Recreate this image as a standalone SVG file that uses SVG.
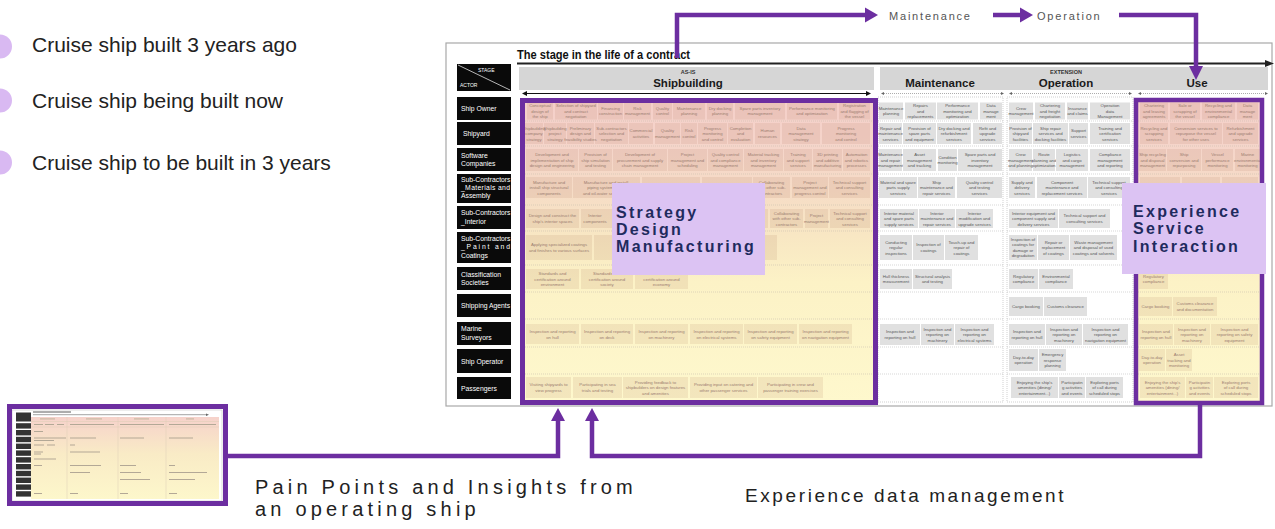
<svg xmlns="http://www.w3.org/2000/svg" width="1275" height="529" viewBox="0 0 1275 529">
<defs>
<linearGradient id="g1" gradientUnits="userSpaceOnUse" x1="0" y1="100" x2="0" y2="403">
<stop offset="0" stop-color="#f5cfc9"/><stop offset=".14" stop-color="#f5d4ca"/><stop offset=".3" stop-color="#f6dcc6"/><stop offset=".45" stop-color="#f8e7c3"/><stop offset=".6" stop-color="#fcf2c6"/><stop offset="1" stop-color="#fef8cd"/>
</linearGradient>
<linearGradient id="g2" x1="0" y1="0" x2="0" y2="1">
<stop offset="0" stop-color="#f6d2cb"/><stop offset=".45" stop-color="#f9ebc6"/><stop offset="1" stop-color="#fdf7cb"/>
</linearGradient>
<style>
.s{fill:#9c5a3c;fill-opacity:.11}
.m{fill:#e0e0e0}
.ts{font-family:"Liberation Sans",Arial,sans-serif;font-size:4.3px;fill:#9b7d70;text-anchor:middle}
.tm{font-family:"Liberation Sans",Arial,sans-serif;font-size:4.3px;fill:#575757;text-anchor:middle}
.lb{fill:#0a0a0a}
.lt{font-family:"Liberation Sans",Arial,sans-serif;font-size:6.8px;fill:#fff}
.sep{stroke:#cbbfae;stroke-width:.6;stroke-dasharray:1 1;fill:none}
.sepm{stroke:#bdbdbd;stroke-width:.6;stroke-dasharray:1 1;fill:none}
.hd{font-family:"Liberation Sans",Arial,sans-serif;font-weight:bold;font-size:11.5px;fill:#1a1a1a;text-anchor:middle}
.hs{font-family:"Liberation Sans",Arial,sans-serif;font-weight:bold;font-size:5.5px;fill:#333;text-anchor:middle}
.big{font-family:"Liberation Sans",Arial,sans-serif;font-weight:bold;font-size:16px;fill:#1f2b5e;letter-spacing:2.3px}
.flow{fill:none;stroke:#6c2ea0;stroke-width:4.5}
.pa{fill:#6c2ea0}
.ft{font-family:"Liberation Sans",Arial,sans-serif;font-size:11px;fill:#555;letter-spacing:1.8px}
.bt{font-family:"Liberation Sans",Arial,sans-serif;font-size:21px;fill:#222}
.cap{font-family:"Liberation Sans",Arial,sans-serif;fill:#222}
.tb{fill:#b3a896}
</style>
</defs>
<rect width="1275" height="529" fill="#fff"/>

<g id="bullets">
<circle cx="0" cy="46.5" r="12" fill="#d9b9f2"/>
<circle cx="0" cy="100.5" r="12" fill="#d9b9f2"/>
<circle cx="0" cy="162.5" r="12" fill="#d9b9f2"/>
<text class="bt" x="32" y="52">Cruise ship built 3 years ago</text>
<text class="bt" x="32" y="108">Cruise ship being built now</text>
<text class="bt" x="32" y="170">Cruise ship to be built in 3 years</text>
</g>

<g id="table">
<rect x="446" y="43" width="826" height="363" fill="#fff" stroke="#a8a8a8" stroke-width="1.2"/>
<text x="517" y="59" font-family="Liberation Sans, Arial, sans-serif" font-weight="bold" font-size="12" fill="#111" textLength="173" lengthAdjust="spacingAndGlyphs">The stage in the life of a contract</text>
<line x1="517" y1="63.5" x2="1266" y2="63.5" stroke="#222" stroke-width="1.8"/>
<polygon points="1265,60 1274,63.5 1265,67" fill="#222"/>
<rect x="519" y="67" width="355" height="23" fill="#d6d6d6"/>
<rect x="880" y="67" width="388" height="23" fill="#d6d6d6"/>
<text class="hs" x="688" y="74">AS-IS</text>
<text class="hd" x="688" y="86.5">Shipbuilding</text>
<text class="hs" x="1066" y="74">EXTENSION</text>
<text class="hd" x="940" y="86.5">Maintenance</text>
<text class="hd" x="1066" y="86.5">Operation</text>
<text class="hd" x="1197" y="86.5">Use</text>
<line x1="526" y1="93.5" x2="867" y2="93.5" stroke="#111" stroke-width="1"/>
<polygon points="527,91 522,93.5 527,96" fill="#111"/><polygon points="866,91 871,93.5 866,96" fill="#111"/>
<line x1="882" y1="93.5" x2="1003" y2="93.5" stroke="#888" stroke-width=".7" stroke-dasharray="1 1"/>
<line x1="1010" y1="93.5" x2="1131" y2="93.5" stroke="#888" stroke-width=".7" stroke-dasharray="1 1"/>
<line x1="1139" y1="93.5" x2="1267" y2="93.5" stroke="#888" stroke-width=".7" stroke-dasharray="1 1"/>
<polygon points="884,92 881,93.5 884,95" fill="#666"/><polygon points="1001,92 1004,93.5 1001,95" fill="#666"/>
<polygon points="1012,92 1009,93.5 1012,95" fill="#666"/><polygon points="1129,92 1132,93.5 1129,95" fill="#666"/>
<polygon points="1141,92 1138,93.5 1141,95" fill="#666"/><polygon points="1265,92 1268,93.5 1265,95" fill="#666"/>

<!-- stage/actor header -->
<rect class="lb" x="457" y="64" width="54" height="27"/>
<line x1="458" y1="65" x2="510" y2="90" stroke="#fff" stroke-width=".7"/>
<text x="478" y="71.5" font-family="Liberation Sans, Arial, sans-serif" font-size="5" fill="#fff">STAGE</text>
<text x="460" y="87" font-family="Liberation Sans, Arial, sans-serif" font-size="5" fill="#fff">ACTOR</text>

<!-- column backgrounds -->
<rect x="522.5" y="100.5" width="353" height="302" fill="url(#g1)"/>
<rect x="1136" y="100" width="126" height="303" fill="url(#g1)"/>
<rect x="878" y="97" width="125" height="305" fill="none" stroke="#bdbdbd" stroke-width=".7" stroke-dasharray="1 1"/>
<rect x="1007" y="97" width="126" height="305" fill="none" stroke="#bdbdbd" stroke-width=".7" stroke-dasharray="1 1"/>

<!-- separators -->
<path class="sep" d="M525 121H873M525 146H873M525 174H873M525 205H873M525 231H873M525 265H873M525 292H873M525 319H873M525 347H873M525 374H873"/>
<path class="sep" d="M1138 121H1260M1138 146H1260M1138 174H1260M1138 205H1260M1138 231H1260M1138 265H1260M1138 292H1260M1138 319H1260M1138 347H1260M1138 374H1260"/>
<path class="sepm" d="M878 121H1003M878 146H1003M878 174H1003M878 205H1003M878 231H1003M878 265H1003M878 292H1003M878 319H1003M878 347H1003M878 374H1003"/>
<path class="sepm" d="M1007 121H1133M1007 146H1133M1007 174H1133M1007 205H1133M1007 231H1133M1007 265H1133M1007 292H1133M1007 319H1133M1007 347H1133M1007 374H1133"/>
</g>

<g id="actors">
<rect class="lb" x="457" y="97" width="54" height="23"/><text class="lt" x="461" y="110.5">Ship Owner</text>
<rect class="lb" x="457" y="122" width="54" height="23"/><text class="lt" x="463" y="135.5">Shipyard</text>
<rect class="lb" x="457" y="148" width="54" height="23"/><text class="lt" x="461" y="157.5">Software<tspan x="461" dy="8">Companies</tspan></text>
<rect class="lb" x="457" y="174" width="54" height="29"/><text class="lt" x="461" y="181.5">Sub-Contractors</text><text class="lt" x="461" y="189.5" textLength="49">_Materials and</text><text class="lt" x="461" y="197.5">Assembly</text>
<rect class="lb" x="457" y="206" width="54" height="23"/><text class="lt" x="461" y="215">Sub-Contractors<tspan x="461" dy="8.5">_Interior</tspan></text>
<rect class="lb" x="457" y="232" width="54" height="31"/><text class="lt" x="461" y="240.5">Sub-Contractors</text><text class="lt" x="461" y="249" textLength="49">_Paint and</text><text class="lt" x="461" y="257.5">Coatings</text>
<rect class="lb" x="457" y="267" width="54" height="23"/><text class="lt" x="461" y="276.5">Classification<tspan x="461" dy="8.5">Societies</tspan></text>
<rect class="lb" x="457" y="294" width="54" height="23"/><text class="lt" x="461" y="307.5">Shipping Agents</text>
<rect class="lb" x="457" y="322" width="54" height="23"/><text class="lt" x="461" y="331">Marine<tspan x="461" dy="8.5">Surveyors</tspan></text>
<rect class="lb" x="457" y="349" width="54" height="24"/><text class="lt" x="461" y="363.5">Ship Operator</text>
<rect class="lb" x="457" y="377" width="54" height="22"/><text class="lt" x="461" y="390.5">Passengers</text>
</g>

<g id="shipbuilding">
<!-- R1 -->
<rect class="s" x="527" y="102.5" width="26" height="17"/><text class="ts" x="540" y="107.2"><tspan x="540">Conceptual</tspan><tspan x="540" dy="5.4">design of</tspan><tspan x="540" dy="5.4">the ship</tspan></text>
<rect class="s" x="555" y="102.5" width="42" height="17"/><text class="ts" x="576" y="107.2"><tspan x="576">Selection of shipyard</tspan><tspan x="576" dy="5.4">and contract</tspan><tspan x="576" dy="5.4">negotiation</tspan></text>
<rect class="s" x="598" y="102.5" width="25" height="17"/><text class="ts" x="610.5" y="109.9"><tspan x="610.5">Financing</tspan><tspan x="610.5" dy="5.4">construction</tspan></text>
<rect class="s" x="624" y="102.5" width="27" height="17"/><text class="ts" x="637.5" y="109.9"><tspan x="637.5">Risk</tspan><tspan x="637.5" dy="5.4">management</tspan></text>
<rect class="s" x="653" y="102.5" width="19" height="17"/><text class="ts" x="662.5" y="109.9"><tspan x="662.5">Quality</tspan><tspan x="662.5" dy="5.4">control</tspan></text>
<rect class="s" x="673" y="102.5" width="32" height="17"/><text class="ts" x="689" y="109.9"><tspan x="689">Maintenance</tspan><tspan x="689" dy="5.4">planning</tspan></text>
<rect class="s" x="707" y="102.5" width="26" height="17"/><text class="ts" x="720" y="109.9"><tspan x="720">Dry docking</tspan><tspan x="720" dy="5.4">planning</tspan></text>
<rect class="s" x="735" y="102.5" width="50" height="17"/><text class="ts" x="760" y="109.9"><tspan x="760">Spare parts inventory</tspan><tspan x="760" dy="5.4">management</tspan></text>
<rect class="s" x="787" y="102.5" width="50" height="17"/><text class="ts" x="812" y="109.9"><tspan x="812">Performance monitoring</tspan><tspan x="812" dy="5.4">and optimization</tspan></text>
<rect class="s" x="839" y="102.5" width="31" height="17"/><text class="ts" x="854.5" y="107.2"><tspan x="854.5">Registration</tspan><tspan x="854.5" dy="5.4">and flagging of</tspan><tspan x="854.5" dy="5.4">the vessel</tspan></text>
<!-- R2 -->
<rect class="s" x="525" y="123" width="18" height="21"/><text class="ts" x="534" y="129.7"><tspan x="534">Shipbuilding</tspan><tspan x="534" dy="5.4">company</tspan><tspan x="534" dy="5.4">strategy</tspan></text>
<rect class="s" x="544" y="123" width="22" height="21"/><text class="ts" x="555" y="129.7"><tspan x="555">Shipbuilding</tspan><tspan x="555" dy="5.4">project</tspan><tspan x="555" dy="5.4">strategy</tspan></text>
<rect class="s" x="567" y="123" width="27" height="21"/><text class="ts" x="580.5" y="129.7"><tspan x="580.5">Preliminary</tspan><tspan x="580.5" dy="5.4">design and</tspan><tspan x="580.5" dy="5.4">feasibility studies</tspan></text>
<rect class="s" x="595" y="123" width="33" height="21"/><text class="ts" x="611.5" y="129.7"><tspan x="611.5">Sub-contractors</tspan><tspan x="611.5" dy="5.4">selection and</tspan><tspan x="611.5" dy="5.4">negotiation</tspan></text>
<rect class="s" x="629" y="123" width="24" height="21"/><text class="ts" x="641" y="132.4"><tspan x="641">Commercial</tspan><tspan x="641" dy="5.4">activities</tspan></text>
<rect class="s" x="655" y="123" width="25" height="21"/><text class="ts" x="667.5" y="132.4"><tspan x="667.5">Quality</tspan><tspan x="667.5" dy="5.4">management</tspan></text>
<rect class="s" x="681" y="123" width="16" height="21"/><text class="ts" x="689" y="132.4"><tspan x="689">Risk</tspan><tspan x="689" dy="5.4">control</tspan></text>
<rect class="s" x="698" y="123" width="29" height="21"/><text class="ts" x="712.5" y="129.7"><tspan x="712.5">Progress</tspan><tspan x="712.5" dy="5.4">monitoring</tspan><tspan x="712.5" dy="5.4">and control</tspan></text>
<rect class="s" x="728" y="123" width="25" height="21"/><text class="ts" x="740.5" y="129.7"><tspan x="740.5">Completion</tspan><tspan x="740.5" dy="5.4">and</tspan><tspan x="740.5" dy="5.4">evaluation</tspan></text>
<rect class="s" x="755" y="123" width="25" height="21"/><text class="ts" x="767.5" y="132.4"><tspan x="767.5">Human</tspan><tspan x="767.5" dy="5.4">resources</tspan></text>
<rect class="s" x="782" y="123" width="38" height="21"/><text class="ts" x="801" y="129.7"><tspan x="801">Data</tspan><tspan x="801" dy="5.4">management</tspan><tspan x="801" dy="5.4">strategy</tspan></text>
<rect class="s" x="822" y="123" width="48" height="21"/><text class="ts" x="846" y="129.7"><tspan x="846">Progress</tspan><tspan x="846" dy="5.4">monitoring</tspan><tspan x="846" dy="5.4">and control</tspan></text>
<!-- R3 -->
<rect class="s" x="526" y="149" width="52" height="22"/><text class="ts" x="552" y="156.2"><tspan x="552">Development and</tspan><tspan x="552" dy="5.4">implementation of ship</tspan><tspan x="552" dy="5.4">design and engineering</tspan></text>
<rect class="s" x="579" y="149" width="33" height="22"/><text class="ts" x="595.5" y="156.2"><tspan x="595.5">Provision of</tspan><tspan x="595.5" dy="5.4">ship simulation</tspan><tspan x="595.5" dy="5.4">and testing</tspan></text>
<rect class="s" x="613" y="149" width="54" height="22"/><text class="ts" x="640" y="156.2"><tspan x="640">Development of</tspan><tspan x="640" dy="5.4">procurement and supply</tspan><tspan x="640" dy="5.4">chain management</tspan></text>
<rect class="s" x="668" y="149" width="39" height="22"/><text class="ts" x="687.5" y="156.2"><tspan x="687.5">Project</tspan><tspan x="687.5" dy="5.4">management and</tspan><tspan x="687.5" dy="5.4">scheduling</tspan></text>
<rect class="s" x="708" y="149" width="35" height="22"/><text class="ts" x="725.5" y="156.2"><tspan x="725.5">Quality control</tspan><tspan x="725.5" dy="5.4">and compliance</tspan><tspan x="725.5" dy="5.4">management</tspan></text>
<rect class="s" x="744" y="149" width="39" height="22"/><text class="ts" x="763.5" y="156.2"><tspan x="763.5">Material tracking</tspan><tspan x="763.5" dy="5.4">and inventory</tspan><tspan x="763.5" dy="5.4">management</tspan></text>
<rect class="s" x="784" y="149" width="28" height="22"/><text class="ts" x="798" y="156.2"><tspan x="798">Training</tspan><tspan x="798" dy="5.4">and support</tspan><tspan x="798" dy="5.4">services</tspan></text>
<rect class="s" x="813" y="149" width="29" height="22"/><text class="ts" x="827.5" y="156.2"><tspan x="827.5">3D printing</tspan><tspan x="827.5" dy="5.4">and additive</tspan><tspan x="827.5" dy="5.4">manufacturing</tspan></text>
<rect class="s" x="843" y="149" width="27" height="22"/><text class="ts" x="856.5" y="156.2"><tspan x="856.5">Automation</tspan><tspan x="856.5" dy="5.4">and robotics</tspan><tspan x="856.5" dy="5.4">processes</tspan></text>
<!-- R4 -->
<rect class="s" x="526" y="177" width="46" height="21"/><text class="ts" x="549" y="183.7"><tspan x="549">Manufacture and</tspan><tspan x="549" dy="5.4">install ship structural</tspan><tspan x="549" dy="5.4">components</tspan></text>
<rect class="s" x="573" y="177" width="67" height="21"/><text class="ts" x="606" y="183.7"><tspan x="606">Manufacture and install</tspan><tspan x="606" dy="5.4">piping systems, fuel</tspan><tspan x="606" dy="5.4">and oil-water separators</tspan></text>
<rect class="s" x="642" y="177" width="58" height="21"/>
<rect class="s" x="702" y="177" width="50" height="21"/>
<rect class="s" x="753" y="177" width="37" height="21"/><text class="ts" x="771.5" y="183.7"><tspan x="771.5">Collaborating</tspan><tspan x="771.5" dy="5.4">with other sub-</tspan><tspan x="771.5" dy="5.4">contractors</tspan></text>
<rect class="s" x="792" y="177" width="36" height="21"/><text class="ts" x="810" y="183.7"><tspan x="810">Project</tspan><tspan x="810" dy="5.4">management and</tspan><tspan x="810" dy="5.4">progress control</tspan></text>
<rect class="s" x="829" y="177" width="41" height="21"/><text class="ts" x="849.5" y="183.7"><tspan x="849.5">Technical support</tspan><tspan x="849.5" dy="5.4">and consulting</tspan><tspan x="849.5" dy="5.4">services</tspan></text>
<!-- R5 -->
<rect class="s" x="526" y="209" width="53" height="19"/><text class="ts" x="552.5" y="217.4"><tspan x="552.5">Design and construct the</tspan><tspan x="552.5" dy="5.4">ship's interior spaces</tspan></text>
<rect class="s" x="581" y="209" width="31" height="19"/><text class="ts" x="595" y="217.4"><tspan x="595">Interior</tspan><tspan x="595" dy="5.4">components</tspan></text>
<rect class="s" x="614" y="209" width="76" height="19"/>
<rect class="s" x="692" y="209" width="76" height="19"/>
<rect class="s" x="770" y="209" width="33" height="19"/><text class="ts" x="786.5" y="214.7"><tspan x="786.5">Collaborating</tspan><tspan x="786.5" dy="5.4">with other sub-</tspan><tspan x="786.5" dy="5.4">contractors</tspan></text>
<rect class="s" x="805" y="209" width="23" height="19"/><text class="ts" x="816.5" y="217.4"><tspan x="816.5">Project</tspan><tspan x="816.5" dy="5.4">management</tspan></text>
<rect class="s" x="830" y="209" width="40" height="19"/><text class="ts" x="850" y="214.7"><tspan x="850">Technical support</tspan><tspan x="850" dy="5.4">and consulting</tspan><tspan x="850" dy="5.4">services</tspan></text>
<!-- R6 -->
<rect class="s" x="526" y="235" width="66" height="25"/><text class="ts" x="559" y="246.4"><tspan x="559">Applying specialized coatings</tspan><tspan x="559" dy="5.4">and finishes to various surfaces</tspan></text>
<rect class="s" x="594" y="235" width="66" height="25"/>
<rect class="s" x="700" y="235" width="77" height="25"/>
<!-- R7 -->
<rect class="s" x="526" y="269" width="53" height="20"/><text class="ts" x="552.5" y="275.2"><tspan x="552.5">Standards and</tspan><tspan x="552.5" dy="5.4">certification around</tspan><tspan x="552.5" dy="5.4">environment</tspan></text>
<rect class="s" x="581" y="269" width="52" height="20"/><text class="ts" x="607" y="275.2"><tspan x="607">Standards and</tspan><tspan x="607" dy="5.4">certification around</tspan><tspan x="607" dy="5.4">society</tspan></text>
<rect class="s" x="635" y="269" width="53" height="20"/><text class="ts" x="661.5" y="275.2"><tspan x="661.5">Standards and</tspan><tspan x="661.5" dy="5.4">certification around</tspan><tspan x="661.5" dy="5.4">economy</tspan></text>
<!-- R9 -->
<rect class="s" x="526" y="324" width="53" height="20"/><text class="ts" x="552.5" y="333.4"><tspan x="552.5">Inspection and reporting</tspan><tspan x="552.5" dy="5.4">on hull</tspan></text>
<rect class="s" x="581" y="324" width="52" height="20"/><text class="ts" x="607" y="333.4"><tspan x="607">Inspection and reporting</tspan><tspan x="607" dy="5.4">on deck</tspan></text>
<rect class="s" x="635" y="324" width="53" height="20"/><text class="ts" x="661.5" y="333.4"><tspan x="661.5">Inspection and reporting</tspan><tspan x="661.5" dy="5.4">on machinery</tspan></text>
<rect class="s" x="690" y="324" width="53" height="20"/><text class="ts" x="716.5" y="333.4"><tspan x="716.5">Inspection and reporting</tspan><tspan x="716.5" dy="5.4">on electrical systems</tspan></text>
<rect class="s" x="744" y="324" width="53" height="20"/><text class="ts" x="770.5" y="333.4"><tspan x="770.5">Inspection and reporting</tspan><tspan x="770.5" dy="5.4">on safety equipment</tspan></text>
<rect class="s" x="799" y="324" width="53" height="20"/><text class="ts" x="825.5" y="333.4"><tspan x="825.5">Inspection and reporting</tspan><tspan x="825.5" dy="5.4">on navigation equipment</tspan></text>
<!-- R11 -->
<rect class="s" x="526" y="377" width="45" height="21"/><text class="ts" x="548.5" y="386.4"><tspan x="548.5">Visiting shipyards to</tspan><tspan x="548.5" dy="5.4">view progress</tspan></text>
<rect class="s" x="573" y="377" width="49" height="21"/><text class="ts" x="597.5" y="386.4"><tspan x="597.5">Participating in sea</tspan><tspan x="597.5" dy="5.4">trials and testing</tspan></text>
<rect class="s" x="623" y="377" width="65" height="21"/><text class="ts" x="655.5" y="383.7"><tspan x="655.5">Providing feedback to</tspan><tspan x="655.5" dy="5.4">shipbuilders on design features</tspan><tspan x="655.5" dy="5.4">and amenities</tspan></text>
<rect class="s" x="690" y="377" width="67" height="21"/><text class="ts" x="723.5" y="386.4"><tspan x="723.5">Providing input on catering and</tspan><tspan x="723.5" dy="5.4">other passenger services</tspan></text>
<rect class="s" x="758" y="377" width="65" height="21"/><text class="ts" x="790.5" y="386.4"><tspan x="790.5">Participating in crew and</tspan><tspan x="790.5" dy="5.4">passenger training exercises</tspan></text>
</g>

<g id="maintenance">
<rect class="m" x="879" y="102.5" width="24" height="17"/><text class="tm" x="891" y="109.9"><tspan x="891">Maintenance</tspan><tspan x="891" dy="5.4">planning</tspan></text>
<rect class="m" x="905" y="102.5" width="31" height="17"/><text class="tm" x="920.5" y="107.2"><tspan x="920.5">Repairs</tspan><tspan x="920.5" dy="5.4">and</tspan><tspan x="920.5" dy="5.4">replacements</tspan></text>
<rect class="m" x="937" y="102.5" width="41" height="17"/><text class="tm" x="957.5" y="107.2"><tspan x="957.5">Performance</tspan><tspan x="957.5" dy="5.4">monitoring and</tspan><tspan x="957.5" dy="5.4">optimization</tspan></text>
<rect class="m" x="980" y="102.5" width="22" height="17"/><text class="tm" x="991" y="107.2"><tspan x="991">Data</tspan><tspan x="991" dy="5.4">manage</tspan><tspan x="991" dy="5.4">ment</tspan></text>
<rect class="m" x="879" y="123" width="23" height="21"/><text class="tm" x="890.5" y="129.7"><tspan x="890.5">Repair and</tspan><tspan x="890.5" dy="5.4">maintenance</tspan><tspan x="890.5" dy="5.4">services</tspan></text>
<rect class="m" x="903" y="123" width="33" height="21"/><text class="tm" x="919.5" y="129.7"><tspan x="919.5">Provision of</tspan><tspan x="919.5" dy="5.4">spare parts</tspan><tspan x="919.5" dy="5.4">and equipment</tspan></text>
<rect class="m" x="937" y="123" width="34" height="21"/><text class="tm" x="954" y="129.7"><tspan x="954">Dry docking and</tspan><tspan x="954" dy="5.4">refurbishment</tspan><tspan x="954" dy="5.4">services</tspan></text>
<rect class="m" x="973" y="123" width="29" height="21"/><text class="tm" x="987.5" y="129.7"><tspan x="987.5">Refit and</tspan><tspan x="987.5" dy="5.4">upgrade</tspan><tspan x="987.5" dy="5.4">services</tspan></text>
<rect class="m" x="879" y="149" width="23" height="22"/><text class="tm" x="890.5" y="156.2"><tspan x="890.5">Maintenance</tspan><tspan x="890.5" dy="5.4">and repair</tspan><tspan x="890.5" dy="5.4">management</tspan></text>
<rect class="m" x="903" y="149" width="33" height="22"/><text class="tm" x="919.5" y="156.2"><tspan x="919.5">Asset</tspan><tspan x="919.5" dy="5.4">management</tspan><tspan x="919.5" dy="5.4">and tracking</tspan></text>
<rect class="m" x="938" y="149" width="19" height="22"/><text class="tm" x="947.5" y="158.9"><tspan x="947.5">Condition</tspan><tspan x="947.5" dy="5.4">monitoring</tspan></text>
<rect class="m" x="958" y="149" width="44" height="22"/><text class="tm" x="980" y="156.2"><tspan x="980">Spare parts and</tspan><tspan x="980" dy="5.4">inventory</tspan><tspan x="980" dy="5.4">management</tspan></text>
<rect class="m" x="879" y="177" width="38" height="21"/><text class="tm" x="898" y="183.7"><tspan x="898">Material and spare</tspan><tspan x="898" dy="5.4">parts supply</tspan><tspan x="898" dy="5.4">services</tspan></text>
<rect class="m" x="918" y="177" width="37" height="21"/><text class="tm" x="936.5" y="183.7"><tspan x="936.5">Ship</tspan><tspan x="936.5" dy="5.4">maintenance and</tspan><tspan x="936.5" dy="5.4">repair services</tspan></text>
<rect class="m" x="957" y="177" width="45" height="21"/><text class="tm" x="979.5" y="183.7"><tspan x="979.5">Quality control</tspan><tspan x="979.5" dy="5.4">and testing</tspan><tspan x="979.5" dy="5.4">services</tspan></text>
<rect class="m" x="880" y="209" width="38" height="19"/><text class="tm" x="899" y="214.7"><tspan x="899">Interior material</tspan><tspan x="899" dy="5.4">and spare parts</tspan><tspan x="899" dy="5.4">supply services</tspan></text>
<rect class="m" x="919" y="209" width="36" height="19"/><text class="tm" x="937" y="214.7"><tspan x="937">Interior</tspan><tspan x="937" dy="5.4">maintenance and</tspan><tspan x="937" dy="5.4">repair services</tspan></text>
<rect class="m" x="956" y="209" width="37" height="19"/><text class="tm" x="974.5" y="214.7"><tspan x="974.5">Interior</tspan><tspan x="974.5" dy="5.4">modification and</tspan><tspan x="974.5" dy="5.4">upgrade services</tspan></text>
<rect class="m" x="880" y="235" width="32" height="25"/><text class="tm" x="896" y="243.7"><tspan x="896">Conducting</tspan><tspan x="896" dy="5.4">regular</tspan><tspan x="896" dy="5.4">inspections</tspan></text>
<rect class="m" x="913" y="235" width="31" height="25"/><text class="tm" x="928.5" y="246.4"><tspan x="928.5">Inspection of</tspan><tspan x="928.5" dy="5.4">coatings</tspan></text>
<rect class="m" x="945" y="235" width="33" height="25"/><text class="tm" x="961.5" y="243.7"><tspan x="961.5">Touch-up and</tspan><tspan x="961.5" dy="5.4">repair of</tspan><tspan x="961.5" dy="5.4">coatings</tspan></text>
<rect class="m" x="880" y="269" width="32" height="20"/><text class="tm" x="896" y="277.9"><tspan x="896">Hull thickness</tspan><tspan x="896" dy="5.4">measurement</tspan></text>
<rect class="m" x="913" y="269" width="39" height="20"/><text class="tm" x="932.5" y="277.9"><tspan x="932.5">Structural analysis</tspan><tspan x="932.5" dy="5.4">and testing</tspan></text>
<rect class="m" x="880" y="324" width="40" height="21"/><text class="tm" x="900" y="333.4"><tspan x="900">Inspection and</tspan><tspan x="900" dy="5.4">reporting on hull</tspan></text>
<rect class="m" x="921" y="324" width="33" height="21"/><text class="tm" x="937.5" y="330.7"><tspan x="937.5">Inspection and</tspan><tspan x="937.5" dy="5.4">reporting on</tspan><tspan x="937.5" dy="5.4">machinery</tspan></text>
<rect class="m" x="955" y="324" width="39" height="21"/><text class="tm" x="974.5" y="330.7"><tspan x="974.5">Inspection and</tspan><tspan x="974.5" dy="5.4">reporting on</tspan><tspan x="974.5" dy="5.4">electrical systems</tspan></text>
</g>

<g id="operation">
<rect class="m" x="1009" y="102.5" width="24" height="17"/><text class="tm" x="1021" y="109.9"><tspan x="1021">Crew</tspan><tspan x="1021" dy="5.4">management</tspan></text>
<rect class="m" x="1035" y="102.5" width="30" height="17"/><text class="tm" x="1050" y="107.2"><tspan x="1050">Chartering</tspan><tspan x="1050" dy="5.4">and freight</tspan><tspan x="1050" dy="5.4">negotiation</tspan></text>
<rect class="m" x="1067" y="102.5" width="21" height="17"/><text class="tm" x="1077.5" y="109.9"><tspan x="1077.5">Insurance</tspan><tspan x="1077.5" dy="5.4">and claims</tspan></text>
<rect class="m" x="1090" y="102.5" width="40" height="17"/><text class="tm" x="1110" y="107.2"><tspan x="1110">Operation</tspan><tspan x="1110" dy="5.4">data</tspan><tspan x="1110" dy="5.4">Management</tspan></text>
<rect class="m" x="1009" y="123" width="23" height="21"/><text class="tm" x="1020.5" y="129.7"><tspan x="1020.5">Provision of</tspan><tspan x="1020.5" dy="5.4">shipyard</tspan><tspan x="1020.5" dy="5.4">facilities</tspan></text>
<rect class="m" x="1033" y="123" width="35" height="21"/><text class="tm" x="1050.5" y="129.7"><tspan x="1050.5">Ship repair</tspan><tspan x="1050.5" dy="5.4">services and</tspan><tspan x="1050.5" dy="5.4">docking facilities</tspan></text>
<rect class="m" x="1069" y="123" width="19" height="21"/><text class="tm" x="1078.5" y="132.4"><tspan x="1078.5">Support</tspan><tspan x="1078.5" dy="5.4">services</tspan></text>
<rect class="m" x="1090" y="123" width="40" height="21"/><text class="tm" x="1110" y="129.7"><tspan x="1110">Training and</tspan><tspan x="1110" dy="5.4">certification</tspan><tspan x="1110" dy="5.4">services</tspan></text>
<rect class="m" x="1009" y="149" width="23" height="22"/><text class="tm" x="1020.5" y="156.2"><tspan x="1020.5">Crew</tspan><tspan x="1020.5" dy="5.4">management</tspan><tspan x="1020.5" dy="5.4">and planning</tspan></text>
<rect class="m" x="1033" y="149" width="22" height="22"/><text class="tm" x="1044" y="156.2"><tspan x="1044">Route</tspan><tspan x="1044" dy="5.4">planning and</tspan><tspan x="1044" dy="5.4">optimization</tspan></text>
<rect class="m" x="1056" y="149" width="32" height="22"/><text class="tm" x="1072" y="156.2"><tspan x="1072">Logistics</tspan><tspan x="1072" dy="5.4">and cargo</tspan><tspan x="1072" dy="5.4">management</tspan></text>
<rect class="m" x="1090" y="149" width="40" height="22"/><text class="tm" x="1110" y="156.2"><tspan x="1110">Compliance</tspan><tspan x="1110" dy="5.4">management</tspan><tspan x="1110" dy="5.4">and reporting</tspan></text>
<rect class="m" x="1009" y="177" width="26" height="21"/><text class="tm" x="1022" y="183.7"><tspan x="1022">Supply and</tspan><tspan x="1022" dy="5.4">delivery</tspan><tspan x="1022" dy="5.4">services</tspan></text>
<rect class="m" x="1037" y="177" width="50" height="21"/><text class="tm" x="1062" y="183.7"><tspan x="1062">Component</tspan><tspan x="1062" dy="5.4">maintenance and</tspan><tspan x="1062" dy="5.4">replacement services</tspan></text>
<rect class="m" x="1088" y="177" width="42" height="21"/><text class="tm" x="1109" y="183.7"><tspan x="1109">Technical support</tspan><tspan x="1109" dy="5.4">and consulting</tspan><tspan x="1109" dy="5.4">services</tspan></text>
<rect class="m" x="1009" y="209" width="49" height="19"/><text class="tm" x="1033.5" y="214.7"><tspan x="1033.5">Interior equipment and</tspan><tspan x="1033.5" dy="5.4">component supply and</tspan><tspan x="1033.5" dy="5.4">delivery services</tspan></text>
<rect class="m" x="1059" y="209" width="51" height="19"/><text class="tm" x="1084.5" y="217.4"><tspan x="1084.5">Technical support and</tspan><tspan x="1084.5" dy="5.4">consulting services</tspan></text>
<rect class="m" x="1009" y="235" width="28" height="25"/><text class="tm" x="1023" y="241"><tspan x="1023">Inspection of</tspan><tspan x="1023" dy="5.4">coatings for</tspan><tspan x="1023" dy="5.4">damage or</tspan><tspan x="1023" dy="5.4">degradation</tspan></text>
<rect class="m" x="1038" y="235" width="31" height="25"/><text class="tm" x="1053.5" y="243.7"><tspan x="1053.5">Repair or</tspan><tspan x="1053.5" dy="5.4">replacement</tspan><tspan x="1053.5" dy="5.4">of coatings</tspan></text>
<rect class="m" x="1070" y="235" width="47" height="25"/><text class="tm" x="1093.5" y="243.7"><tspan x="1093.5">Waste management</tspan><tspan x="1093.5" dy="5.4">and disposal of used</tspan><tspan x="1093.5" dy="5.4">coatings and solvents</tspan></text>
<rect class="m" x="1009" y="269" width="29" height="20"/><text class="tm" x="1023.5" y="277.9"><tspan x="1023.5">Regulatory</tspan><tspan x="1023.5" dy="5.4">compliance</tspan></text>
<rect class="m" x="1039" y="269" width="34" height="20"/><text class="tm" x="1056" y="277.9"><tspan x="1056">Environmental</tspan><tspan x="1056" dy="5.4">compliance</tspan></text>
<rect class="m" x="1009" y="297" width="34" height="19"/><text class="tm" x="1026" y="308.1">Cargo booking</text>
<rect class="m" x="1044" y="297" width="43" height="19"/><text class="tm" x="1065.5" y="308.1">Customs clearance</text>
<rect class="m" x="1009" y="324" width="36" height="21"/><text class="tm" x="1027" y="333.4"><tspan x="1027">Inspection and</tspan><tspan x="1027" dy="5.4">reporting on hull</tspan></text>
<rect class="m" x="1046" y="324" width="36" height="21"/><text class="tm" x="1064" y="330.7"><tspan x="1064">Inspection and</tspan><tspan x="1064" dy="5.4">reporting on</tspan><tspan x="1064" dy="5.4">machinery</tspan></text>
<rect class="m" x="1083" y="324" width="45" height="21"/><text class="tm" x="1105.5" y="330.7"><tspan x="1105.5">Inspection and</tspan><tspan x="1105.5" dy="5.4">reporting on</tspan><tspan x="1105.5" dy="5.4">navigation equipment</tspan></text>
<rect class="m" x="1009" y="349" width="29" height="22"/><text class="tm" x="1023.5" y="358.9"><tspan x="1023.5">Day-to-day</tspan><tspan x="1023.5" dy="5.4">operation</tspan></text>
<rect class="m" x="1039" y="349" width="27" height="22"/><text class="tm" x="1052.5" y="356.2"><tspan x="1052.5">Emergency</tspan><tspan x="1052.5" dy="5.4">response</tspan><tspan x="1052.5" dy="5.4">planning</tspan></text>
<rect class="m" x="1011" y="377" width="47" height="21"/><text class="tm" x="1034.5" y="383.7"><tspan x="1034.5">Enjoying the ship's</tspan><tspan x="1034.5" dy="5.4">amenities (dining/</tspan><tspan x="1034.5" dy="5.4">entertainment...)</tspan></text>
<rect class="m" x="1059" y="377" width="26" height="21"/><text class="tm" x="1072" y="383.7"><tspan x="1072">Participatin</tspan><tspan x="1072" dy="5.4">g activities</tspan><tspan x="1072" dy="5.4">and events</tspan></text>
<rect class="m" x="1086" y="377" width="37" height="21"/><text class="tm" x="1104.5" y="383.7"><tspan x="1104.5">Exploring ports</tspan><tspan x="1104.5" dy="5.4">of call during</tspan><tspan x="1104.5" dy="5.4">scheduled stops</tspan></text>
</g>

<g id="use">
<rect class="s" x="1140" y="102.5" width="28" height="17"/><text class="ts" x="1154" y="107.2"><tspan x="1154">Chartering</tspan><tspan x="1154" dy="5.4">and leasing</tspan><tspan x="1154" dy="5.4">agreements</tspan></text>
<rect class="s" x="1170" y="102.5" width="30" height="17"/><text class="ts" x="1185" y="107.2"><tspan x="1185">Sale or</tspan><tspan x="1185" dy="5.4">scrapping of</tspan><tspan x="1185" dy="5.4">the vessel</tspan></text>
<rect class="s" x="1202" y="102.5" width="33" height="17"/><text class="ts" x="1218.5" y="107.2"><tspan x="1218.5">Recycling and</tspan><tspan x="1218.5" dy="5.4">environmental</tspan><tspan x="1218.5" dy="5.4">compliance</tspan></text>
<rect class="s" x="1237" y="102.5" width="21" height="17"/><text class="ts" x="1247.5" y="107.2"><tspan x="1247.5">Data</tspan><tspan x="1247.5" dy="5.4">manage</tspan><tspan x="1247.5" dy="5.4">ment</tspan></text>
<rect class="s" x="1140" y="123" width="28" height="21"/><text class="ts" x="1154" y="129.7"><tspan x="1154">Recycling and</tspan><tspan x="1154" dy="5.4">scrapping</tspan><tspan x="1154" dy="5.4">services</tspan></text>
<rect class="s" x="1170" y="123" width="52" height="21"/><text class="ts" x="1196" y="129.7"><tspan x="1196">Conversion services to</tspan><tspan x="1196" dy="5.4">repurpose the vessel</tspan><tspan x="1196" dy="5.4">for other uses</tspan></text>
<rect class="s" x="1223" y="123" width="35" height="21"/><text class="ts" x="1240.5" y="129.7"><tspan x="1240.5">Refurbishment</tspan><tspan x="1240.5" dy="5.4">and upgrade</tspan><tspan x="1240.5" dy="5.4">services</tspan></text>
<rect class="s" x="1139" y="149" width="27" height="22"/><text class="ts" x="1152.5" y="156.2"><tspan x="1152.5">Ship recycling</tspan><tspan x="1152.5" dy="5.4">and disposal</tspan><tspan x="1152.5" dy="5.4">management</tspan></text>
<rect class="s" x="1167" y="149" width="34" height="22"/><text class="ts" x="1184" y="156.2"><tspan x="1184">Ship</tspan><tspan x="1184" dy="5.4">conversion and</tspan><tspan x="1184" dy="5.4">repurposing</tspan></text>
<rect class="s" x="1202" y="149" width="31" height="22"/><text class="ts" x="1217.5" y="156.2"><tspan x="1217.5">Vessel</tspan><tspan x="1217.5" dy="5.4">performance</tspan><tspan x="1217.5" dy="5.4">monitoring</tspan></text>
<rect class="s" x="1235" y="149" width="25" height="22"/><text class="ts" x="1247.5" y="156.2"><tspan x="1247.5">Marine</tspan><tspan x="1247.5" dy="5.4">environmental</tspan><tspan x="1247.5" dy="5.4">monitoring</tspan></text>
<rect class="s" x="1140" y="177" width="40" height="21"/>
<rect class="s" x="1182" y="177" width="38" height="21"/>
<rect class="s" x="1222" y="177" width="36" height="21"/>
<rect class="s" x="1139" y="269" width="29" height="20"/><text class="ts" x="1153.5" y="277.9"><tspan x="1153.5">Regulatory</tspan><tspan x="1153.5" dy="5.4">compliance</tspan></text>
<rect class="s" x="1139" y="297" width="33" height="19"/><text class="ts" x="1155.5" y="308.1">Cargo booking</text>
<rect class="s" x="1173" y="297" width="44" height="19"/><text class="ts" x="1195" y="305.4"><tspan x="1195">Customs clearance</tspan><tspan x="1195" dy="5.4">and documentation</tspan></text>
<rect class="s" x="1139" y="324" width="34" height="21"/><text class="ts" x="1156" y="333.4"><tspan x="1156">Inspection and</tspan><tspan x="1156" dy="5.4">reporting on hull</tspan></text>
<rect class="s" x="1174" y="324" width="36" height="21"/><text class="ts" x="1192" y="330.7"><tspan x="1192">Inspection and</tspan><tspan x="1192" dy="5.4">reporting on</tspan><tspan x="1192" dy="5.4">machinery</tspan></text>
<rect class="s" x="1211" y="324" width="47" height="21"/><text class="ts" x="1234.5" y="330.7"><tspan x="1234.5">Inspection and</tspan><tspan x="1234.5" dy="5.4">reporting on safety</tspan><tspan x="1234.5" dy="5.4">equipment</tspan></text>
<rect class="s" x="1139" y="349" width="26" height="22"/><text class="ts" x="1152" y="358.9"><tspan x="1152">Day-to-day</tspan><tspan x="1152" dy="5.4">operation</tspan></text>
<rect class="s" x="1166" y="349" width="26" height="22"/><text class="ts" x="1179" y="356.2"><tspan x="1179">Asset</tspan><tspan x="1179" dy="5.4">tracking and</tspan><tspan x="1179" dy="5.4">monitoring</tspan></text>
<rect class="s" x="1140" y="377" width="45" height="21"/><text class="ts" x="1162.5" y="383.7"><tspan x="1162.5">Enjoying the ship's</tspan><tspan x="1162.5" dy="5.4">amenities (dining/</tspan><tspan x="1162.5" dy="5.4">entertainment...)</tspan></text>
<rect class="s" x="1186" y="377" width="27" height="21"/><text class="ts" x="1199.5" y="383.7"><tspan x="1199.5">Participatin</tspan><tspan x="1199.5" dy="5.4">g activities</tspan><tspan x="1199.5" dy="5.4">and events</tspan></text>
<rect class="s" x="1214" y="377" width="44" height="21"/><text class="ts" x="1236" y="383.7"><tspan x="1236">Exploring ports</tspan><tspan x="1236" dy="5.4">of call during</tspan><tspan x="1236" dy="5.4">scheduled stops</tspan></text>
</g>

<g id="frames">
<rect x="522.5" y="100.5" width="353" height="302" fill="none" stroke="#6c2ea0" stroke-width="5"/>
<rect x="1136" y="100" width="126" height="303" fill="none" stroke="#6c2ea0" stroke-width="4.5"/>
</g>

<g id="strategy">
<rect x="612" y="183" width="153" height="92" fill="#dcc3f3"/>
<text class="big" x="616" y="218">Strategy</text>
<text class="big" x="616" y="235">Design</text>
<text class="big" x="616" y="252">Manufacturing</text>
</g>

<g id="experience">
<rect x="1122" y="183" width="144" height="91" fill="#dcc3f3"/>
<text class="big" x="1133" y="217">Experience</text>
<text class="big" x="1133" y="234">Service</text>
<text class="big" x="1133" y="252">Interaction</text>
</g>

<g id="thumbnail">
<rect x="12" y="410" width="210" height="91" fill="#fff" stroke="#c4c4c4" stroke-width=".6"/>
<rect x="31" y="417" width="188" height="82" fill="url(#g2)"/>
<rect x="33" y="411.3" width="38" height="1.4" fill="#8a8a8a"/>
<line x1="33" y1="414.7" x2="207" y2="414.7" stroke="#666" stroke-width=".6"/>
<polygon points="206,413.5 209,414.7 206,416" fill="#666"/>
<g fill="#c9b9a4">
<rect x="40" y="418.3" width="15" height="1.2"/><rect x="86" y="418.3" width="16" height="1.2"/><rect x="134" y="418.3" width="15" height="1.2"/><rect x="186" y="418.3" width="8" height="1.2"/>
</g>
<g stroke="#dccdb5" stroke-width=".5">
<line x1="67" y1="417" x2="67" y2="499"/><line x1="118" y1="417" x2="118" y2="499"/><line x1="166" y1="417" x2="166" y2="499"/>
<line x1="31" y1="421.5" x2="219" y2="421.5"/><line x1="31" y1="427" x2="219" y2="427"/>
</g>
<g fill="#333">
<rect x="16" y="412.5" width="15" height="9"/><rect x="16" y="423.2" width="15" height="5.4"/><rect x="16" y="430" width="15" height="5.4"/><rect x="16" y="436.8" width="15" height="5.4"/><rect x="16" y="443.6" width="15" height="5.4"/><rect x="16" y="450.4" width="15" height="5.4"/><rect x="16" y="457.2" width="15" height="5.4"/><rect x="16" y="464" width="15" height="5.4"/><rect x="16" y="470.8" width="15" height="5.4"/><rect x="16" y="477.6" width="15" height="5.4"/><rect x="16" y="484.4" width="15" height="5.4"/><rect x="16" y="491.2" width="15" height="5.4"/>
</g>
<g class="tb">
<rect x="34" y="424" width="9" height="1"/><rect x="45" y="424" width="9" height="1"/><rect x="57" y="424" width="7" height="1"/><rect x="70" y="424" width="44" height="1"/><rect x="120" y="424" width="44" height="1"/><rect x="169" y="424" width="47" height="1"/>
<rect x="34" y="431" width="9" height="1"/>
<rect x="34" y="437.5" width="32" height="1"/><rect x="34" y="440" width="20" height="1"/><rect x="70" y="437.5" width="26" height="1"/><rect x="120" y="437.5" width="24" height="1"/><rect x="169" y="437.5" width="24" height="1"/>
<rect x="34" y="444.5" width="10" height="1"/><rect x="47" y="444.5" width="8" height="1"/><rect x="70" y="444.5" width="5" height="1"/>
<rect x="34" y="451.5" width="9" height="1"/><rect x="34" y="453.5" width="7" height="1"/><rect x="70" y="451.5" width="30" height="1"/>
<rect x="34" y="458.5" width="22" height="1"/>
<rect x="34" y="465" width="8" height="1"/><rect x="70" y="465" width="31" height="1"/><rect x="120" y="465" width="16" height="1"/><rect x="169" y="465" width="6" height="1"/>
<rect x="70" y="472" width="20" height="1"/><rect x="120" y="472" width="21" height="1"/><rect x="169" y="472" width="38" height="1"/>
<rect x="120" y="479" width="30" height="1"/><rect x="169" y="479" width="26" height="1"/>
<rect x="34" y="493" width="8" height="1"/><rect x="70" y="493" width="8" height="1"/><rect x="120" y="493" width="8" height="1"/><rect x="169" y="493" width="8" height="1"/>
</g>
<rect x="9.5" y="406.5" width="216" height="97" fill="none" stroke="#6c2ea0" stroke-width="5"/>
</g>

<g id="connectors">
<path class="flow" d="M677 58V15H866"/>
<polygon class="pa" points="865,7.5 878,15 865,22.5"/>
<path class="flow" d="M993 15H1021"/>
<polygon class="pa" points="1020,7.5 1033,15 1020,22.5"/>
<path class="flow" d="M1119 15H1196V67"/>
<polygon class="pa" points="1189,66 1203,66 1196,80"/>
<path class="flow" d="M228 456H558V420"/>
<polygon class="pa" points="551,421 565,421 558,408"/>
<path class="flow" d="M1200 404V456H592V420"/>
<polygon class="pa" points="585,421 599,421 592,408"/>
</g>

<g id="labels">
<text class="ft" x="889" y="20">Maintenance</text>
<text class="ft" x="1037" y="20">Operation</text>
<text class="cap" x="255" y="494" font-size="20" letter-spacing="4.2">Pain Points and Insights from</text>
<text class="cap" x="255" y="516" font-size="20" letter-spacing="4.2">an operating ship</text>
<text class="cap" x="745" y="502" font-size="19" letter-spacing="2.6">Experience data management</text>
</g>
</svg>
